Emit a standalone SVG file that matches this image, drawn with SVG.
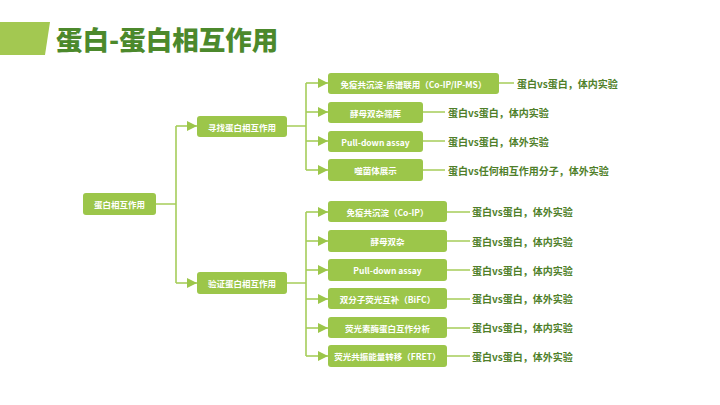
<svg xmlns="http://www.w3.org/2000/svg" width="720" height="405" viewBox="0 0 720 405">
<defs>
<marker id="ah" viewBox="0 0 10 10" refX="10" refY="5" markerWidth="10" markerHeight="10" markerUnits="userSpaceOnUse" orient="auto">
<path d="M0,0 L10,5 L0,10 Z" fill="#9cc64a"/>
</marker>
<style>
.n{fill:#9cc64a}
.t{fill:#fff;font-family:"Noto Sans CJK SC","Noto Sans",sans-serif;font-size:8.5px;font-weight:bold;text-anchor:middle;dominant-baseline:central}
.l{fill:#4f7f2a;font-family:"Noto Sans CJK SC","Noto Sans",sans-serif;font-size:10px;font-weight:bold;dominant-baseline:central}
.c{fill:none;stroke:#a6cd5a;stroke-width:1.6}
.a{marker-end:url(#ah)}
</style>
</defs>
<rect width="720" height="405" fill="#fff"/>
<polygon points="0,22 50,22 45,55 0,55" fill="#a3c851"/>
<text x="56" y="50" font-family="'Noto Sans CJK SC','Noto Sans',sans-serif" font-size="26.5" font-weight="900" fill="#4c892c">蛋白-蛋白相互作用</text>
<g id="connectors">
<path class="c" d="M156,204 H176 M176,126 V283"/>
<path class="c a" d="M176,126 H197"/>
<path class="c a" d="M176,283 H197"/>
<path class="c" d="M287,126 H306 M306,83 V170"/>
<path class="c a" d="M306,83 H328"/>
<path class="c a" d="M306,112 H328"/>
<path class="c a" d="M306,141 H328"/>
<path class="c a" d="M306,170 H328"/>
<path class="c" d="M287,283 H306 M306,212 V356"/>
<path class="c a" d="M306,212 H328"/>
<path class="c a" d="M306,241 H328"/>
<path class="c a" d="M306,270 H328"/>
<path class="c a" d="M306,299 H328"/>
<path class="c a" d="M306,328 H328"/>
<path class="c a" d="M306,356 H328"/>
<path class="c" d="M499,83 H514 M423,112 H445 M423,141 H445 M423,170 H445"/>
<path class="c" d="M447,212 H470 M447,241 H470 M447,270 H470 M447,299 H470 M447,328 H470 M447,356 H470"/>
</g>
<g id="root"><rect class="n" x="83" y="193" width="73" height="22" rx="3"/><text class="t" x="119.5" y="204">蛋白相互作用</text></g>
<g id="find"><rect class="n" x="197" y="116" width="90" height="21" rx="3"/><text class="t" x="242" y="126.5">寻找蛋白相互作用</text></g>
<g id="verify"><rect class="n" x="197" y="272" width="90" height="22" rx="3"/><text class="t" x="242" y="283">验证蛋白相互作用</text></g>
<g id="f1"><rect class="n" x="328" y="73" width="171" height="21" rx="3"/><text class="t" x="413.5" y="83.5">免疫共沉淀-质谱联用（Co-IP/IP-MS）</text><text class="l" x="517" y="83.5">蛋白vs蛋白，体内实验</text></g>
<g id="f2"><rect class="n" x="328" y="102" width="95" height="21" rx="3"/><text class="t" x="375.5" y="112.5">酵母双杂筛库</text><text class="l" x="448" y="112.5">蛋白vs蛋白，体内实验</text></g>
<g id="f3"><rect class="n" x="328" y="131" width="95" height="21" rx="3"/><text class="t" x="375.5" y="141.5">Pull-down assay</text><text class="l" x="448" y="141.5">蛋白vs蛋白，体外实验</text></g>
<g id="f4"><rect class="n" x="328" y="159" width="95" height="22" rx="3"/><text class="t" x="375.5" y="170">噬菌体展示</text><text class="l" x="448" y="170">蛋白vs任何相互作用分子，体外实验</text></g>
<g id="v1"><rect class="n" x="328" y="201" width="119" height="21" rx="3"/><text class="t" x="387.5" y="211.5">免疫共沉淀（Co-IP）</text><text class="l" x="472" y="211.5">蛋白vs蛋白，体外实验</text></g>
<g id="v2"><rect class="n" x="328" y="230" width="119" height="22" rx="3"/><text class="t" x="387.5" y="241">酵母双杂</text><text class="l" x="472" y="241">蛋白vs蛋白，体内实验</text></g>
<g id="v3"><rect class="n" x="328" y="259" width="119" height="22" rx="3"/><text class="t" x="387.5" y="270">Pull-down assay</text><text class="l" x="472" y="270">蛋白vs蛋白，体内实验</text></g>
<g id="v4"><rect class="n" x="328" y="288" width="119" height="21" rx="3"/><text class="t" x="387.5" y="298.5">双分子荧光互补（BiFC）</text><text class="l" x="472" y="298.5">蛋白vs蛋白，体外实验</text></g>
<g id="v5"><rect class="n" x="328" y="317" width="119" height="21" rx="3"/><text class="t" x="387.5" y="327.5">荧光素酶蛋白互作分析</text><text class="l" x="472" y="327.5">蛋白vs蛋白，体内实验</text></g>
<g id="v6"><rect class="n" x="328" y="345" width="119" height="22" rx="3"/><text class="t" x="387.5" y="356">荧光共振能量转移（FRET）</text><text class="l" x="472" y="356">蛋白vs蛋白，体外实验</text></g>
</svg>
